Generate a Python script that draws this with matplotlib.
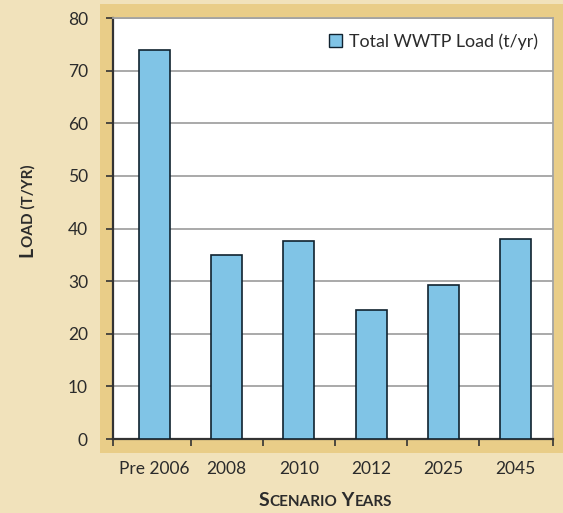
# Total WWTP load per scenario year, bar chart on a beige panel.

import matplotlib
matplotlib.use("Agg")
import matplotlib.pyplot as plt
from matplotlib.patches import Rectangle, Patch
from matplotlib.font_manager import FontProperties

scenarios = ["Pre 2006", "2008", "2010", "2012", "2025", "2045"]
wwtp_load = [74.0, 34.9, 37.6, 24.5, 29.2, 38.1]
y_ticks = [0, 10, 20, 30, 40, 50, 60, 70, 80]

FONT = "Lato"
PAGE = "#f1e2bb"
BAND = "#e9cd88"
BAR = "#80c4e6"
EDGE = "#10222f"
INK = "#2b2b2b"


def small_caps(fig, x, y, parts, rotation=0):
    """Draw (text, size) pieces end to end, centred on (x, y) in figure coords."""
    renderer = fig.canvas.get_renderer()
    W, H = fig.bbox.width, fig.bbox.height
    widths = []
    for s, size in parts:
        fp = FontProperties(family=FONT, weight="bold", size=size)
        w, _, _ = renderer.get_text_width_height_descent(s, fp, ismath=False)
        widths.append(w)
    total = sum(widths)
    pos = -total / 2
    for (s, size), w in zip(parts, widths):
        if rotation == 90:
            px, py = x, y + pos / H
        else:
            px, py = x + pos / W, y
        fig.text(px, py, s, fontsize=size, fontweight="bold", family=FONT,
                 color=INK, rotation=rotation, rotation_mode="anchor",
                 ha="left", va="baseline")
        pos += w


fig = plt.figure(figsize=(5.63, 5.13), dpi=100, facecolor=PAGE)
fig.patches.append(Rectangle((0.1776, 0.117), 0.83, 0.875, transform=fig.transFigure,
                             facecolor=BAND, edgecolor="none", zorder=-1))

ax = fig.add_axes([0.2007, 0.1442, 0.7815, 0.8207], zorder=2)
ax.set_facecolor("white")

x = list(range(len(scenarios)))
ax.bar(x, wwtp_load, width=0.43, color=BAR, edgecolor=EDGE, linewidth=1.2, zorder=3)

x0, x1 = -0.575, len(scenarios) - 0.48
ax.set_xlim(x0, x1)
ax.set_ylim(0, 80)
ax.set_yticks(y_ticks)
ax.yaxis.grid(True, color="#a3a3a3", linewidth=1.3, zorder=1)
ax.set_axisbelow(True)

ax.set_xticks(x)
ax.set_xticklabels(scenarios, fontsize=12.5, family=FONT, color=INK)
ax.set_xticks([x0] + [i + 0.5 for i in range(len(scenarios) - 1)] + [x1], minor=True)
ax.tick_params(axis="x", which="major", length=0, pad=16)
ax.tick_params(axis="x", which="minor", length=5, width=1.2, color="#333333", direction="out")
ax.tick_params(axis="y", length=5, width=1.2, color="#333333", pad=13,
               labelsize=12.5, labelcolor=INK)
for lbl in ax.get_yticklabels():
    lbl.set_family(FONT)

for side in ("left", "bottom"):
    ax.spines[side].set_color("#333333")
    ax.spines[side].set_linewidth(1.6)
for side in ("top", "right"):
    ax.spines[side].set_color("#a3a3a3")
    ax.spines[side].set_linewidth(1.3)

handle = Patch(facecolor=BAR, edgecolor=EDGE, linewidth=1.0)
ax.legend([handle], ["Total WWTP Load (t/yr)"], loc="upper right", frameon=False,
          prop={"family": FONT, "size": 12.8}, handlelength=0.7, handleheight=0.7,
          handletextpad=0.4, borderaxespad=0.45, labelcolor=INK)

small_caps(fig, 0.0575, 0.5887, [("L", 14), ("OAD (T/YR)", 11)], rotation=90)
small_caps(fig, 0.578, 0.0135, [("S", 14), ("CENARIO", 11), (" Y", 14), ("EARS", 11)])

fig.savefig("out.png", dpi=100, facecolor=PAGE)
